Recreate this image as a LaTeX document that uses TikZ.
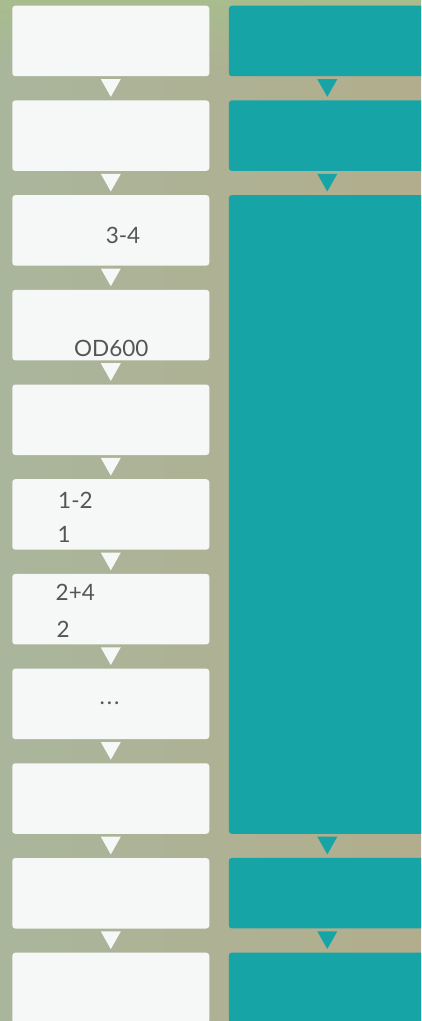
\documentclass[tikz,border=0pt]{standalone}
\usepackage{fontspec}
\setmainfont{Lato}
\usetikzlibrary{calc,fadings}
\definecolor{bgL}{HTML}{A9B69C}
\definecolor{bgR}{HTML}{B2AD8C}
\definecolor{bgTop}{HTML}{A8BD8E}
\definecolor{boxW}{HTML}{F6F8F8}
\definecolor{tealc}{HTML}{17A4A6}
\definecolor{txt}{HTML}{555555}
\tikzset{
  lbox/.style={fill=boxW, rounded corners=3pt, minimum width=197pt, minimum height=70.5pt, inner sep=0pt, draw=none},
  rbox/.style={fill=tealc, rounded corners=3pt, minimum width=197pt, inner sep=0pt, draw=none},
  lbl/.style={text=txt, font=\fontsize{22.5}{26}\selectfont, inner sep=0pt},
  wtri/.style={fill=boxW},
  ttri/.style={fill=tealc}
}
\begin{document}
\begin{tikzpicture}[x=1pt,y=-1pt]
\clip (0,0) rectangle (421,1021);
\shade[left color=bgL, right color=bgR] (0,0) rectangle (421,1021);
\fill[bgTop, path fading=south] (0,0) rectangle (421,70);
% left boxes
\foreach \k in {1,...,11}{
  \node[lbox] (L\k) at (110.8, {5.7+94.7*(\k-1)+35.25}) {};
}
% left triangles
\foreach \k in {1,...,10}{
  \fill[wtri] ($(L\k.south)+(-10,2.7)$) -- ($(L\k.south)+(10,2.7)$) -- ($(L\k.south)+(0,20.4)$) -- cycle;
}
% right boxes
\node[rbox, minimum height=70.5pt] (R1) at (327.3, 40.95) {};
\node[rbox, minimum height=70.5pt] (R2) at (327.3, 135.65) {};
\node[rbox, minimum height=638.7pt] (R3) at (327.3, 514.45) {};
\node[rbox, minimum height=70.5pt] (R4) at (327.3, 893.15) {};
\node[rbox, minimum height=70.5pt] (R5) at (327.3, 987.85) {};
\foreach \k in {1,2,3,4}{
  \fill[ttri] ($(R\k.south)+(-10,2.7)$) -- ($(R\k.south)+(10,2.7)$) -- ($(R\k.south)+(0,20.4)$) -- cycle;
}
% labels
\node[lbl, anchor=base] (t1) at (123,243.3) {3-4};
\node[lbl, anchor=base] (t2) at (111.3,356.5) {OD600};
\node[lbl, anchor=base west] (t3) at (58,508) {1-2};
\node[lbl, anchor=base west] (t4) at (57.5,542) {1};
\node[lbl, anchor=base west] (t5) at (55.5,600.5) {2+4};
\node[lbl, anchor=base west] (t6) at (56.5,637) {2};
\node[lbl, anchor=base] (t7) at (109.5,704.5) {.\hspace{2pt}.\hspace{2pt}.};
\end{tikzpicture}
\end{document}
